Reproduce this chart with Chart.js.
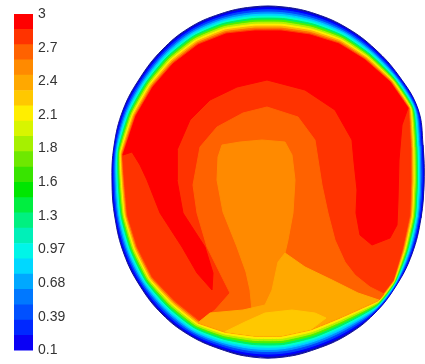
<!DOCTYPE html>
<html>
<head>
<meta charset="utf-8">
<script src="https://cdn.jsdelivr.net/npm/chart.js@4.4.1/dist/chart.umd.min.js"></script>
<style>
html, body { margin: 0; padding: 0; background: #fff; width: 425px; height: 364px; overflow: hidden; }
#legend { position: absolute; left: 0; top: 0; }
#field { position: absolute; left: 111px; top: 0; }
</style>
</head>
<body>
<canvas id="legend" width="80" height="364"></canvas>
<canvas id="field" width="314" height="364"></canvas>
<script>
// colour bar: band edges (bottom to top) and the labelled levels
const bandEdges = [0.1, 0.232, 0.364, 0.495, 0.627, 0.759, 0.891, 1.023, 1.155, 1.286, 1.418, 1.55,
    1.682, 1.814, 1.945, 2.077, 2.209, 2.341, 2.473, 2.605, 2.736, 2.868, 3.0];
const tickValues = [0.1, 0.39, 0.68, 0.97, 1.26, 1.55, 1.84, 2.13, 2.42, 2.71, 3];
const tickLabels = ['0.1', '0.39', '0.68', '0.97', '1.3', '1.6', '1.8', '2.1', '2.4', '2.7', '3'];

// contour outlines, plot units, origin at the centre of the section
const rimOuter = [[156, 0], [155, 37], [150, 73], [131, 106], [107, 133], [79, 154], [48, 168], [16, 175],
    [-16, 175], [-48, 168], [-79, 154], [-106, 132], [-128, 104], [-145, 72], [-154, 36], [-156, 0],
    [-153, -36], [-144, -72], [-128, -104], [-106, -132], [-79, -153], [-48, -167], [-16, -175],
    [16, -175], [48, -167], [79, -153], [106, -132], [128, -104], [144, -72], [153, -36]];
const rimInner = [[142, 0], [142, 34], [140, 74], [122, 100], [97, 122], [71, 138], [42, 147], [13, 151],
    [-13, 151], [-42, 148], [-70, 137], [-95, 118], [-115, 95], [-132, 66], [-145, 27], [-143, 0],
    [-140, -33], [-130, -65], [-115, -95], [-93, -118], [-68, -138], [-42, -146], [-13, -149],
    [13, -149], [42, -143], [70, -132], [112, -115], [125, -98], [134, -67], [141, -34]];
// red (level 3) horseshoe, inner edge from right rim vertex round to the left one
const redEdge = [[134, 57], [131, 22], [130, -18], [129, -43], [122, -56], [104, -63], [92, -53], [88, -31],
    [89, -8], [86, 20], [84, 42], [67, 72], [37, 92], [-1, 102], [-31, 95], [-58, 82], [-78, 62], [-91, 32],
    [-91, 2], [-85, -31], [-63, -65], [-55, -91], [-56, -108], [-71, -91], [-86, -65], [-108, -31],
    [-121, 2], [-128, 17], [-136, 30]];
const orangeRedEdge = [[116, -112], [102, -105], [87, -93], [77, -80], [67, -58], [60, -31], [54, -3],
    [47, 42], [30, 65], [-1, 75], [-25, 69], [-51, 55], [-68, 35], [-75, -3], [-71, -31], [-61, -65],
    [-48, -91], [-38, -111], [-53, -128]];
const orangeEdge = [[-46, 37], [-28, 40], [-6, 42], [17, 40], [24, 27], [27, 2], [25, -31], [20, -58],
    [17, -71], [10, -80], [4, -108], [-3, -126], [-16, -128], [-18, -108], [-22, -90], [-31, -65],
    [-45, -30], [-51, 2], [-50, 25]];
const lightOrangeEdge = [[-58, -131], [-25, -128], [-3, -123], [4, -108], [10, -80], [17, -71], [37, -85],
    [64, -98], [90, -111]];
const yellowEdge = [[-23, -140], [-3, -131], [24, -128], [47, -131], [58, -136]];

// gradient across the wall ring, 0 = outer edge, 1 = inner edge
const rimStops = [0, 0.07, 0.15, 0.24, 0.32, 0.40, 0.48, 0.56, 0.64, 0.72, 0.80, 0.88, 0.95];
const rimColors = ['#12129c', '#0000ff', '#0044ff', '#0090ff', '#00d4ff', '#00ffd0', '#00f060',
    '#50f000', '#b8f000', '#ffee00', '#ffb000', '#ff7000', '#ff3c00'];
const bandColors = ['#0a00f5', '#0028ff', '#0050ff', '#0078ff', '#00a8ff', '#00d8ff', '#00f5e8', '#00f0b8',
    '#00f080', '#00ee40', '#00e600', '#38e400', '#6ee800', '#a6f000', '#d8f500', '#ffee00', '#ffc800',
    '#ffa800', '#ff8a00', '#ff6200', '#ff3300', '#ff0000'];

const font = { family: "'Liberation Sans', Arial, sans-serif", size: 14 };

new Chart(document.getElementById('legend'), {
    type: 'bar',
    data: {
        labels: [''],
        datasets: bandColors.map((c, i) => ({
            data: [[bandEdges[i], bandEdges[i + 1]]],
            backgroundColor: c,
            borderWidth: 0,
            grouped: false,
            barPercentage: 1,
            categoryPercentage: 1
        }))
    },
    options: {
        responsive: false,
        animation: false,
        events: [],
        layout: { padding: { left: 14, top: 14, bottom: 12, right: 0 } },
        plugins: { legend: { display: false }, tooltip: { enabled: false } },
        scales: {
            x: { display: false },
            y: {
                position: 'right',
                min: 0.1,
                max: 3,
                grid: { display: false, drawTicks: false },
                border: { display: false },
                afterBuildTicks: (axis) => { axis.ticks = tickValues.map(v => ({ value: v })); },
                afterFit: (axis) => { axis.width = 47; },
                ticks: {
                    padding: 5,
                    autoSkip: false,
                    color: '#333',
                    font: font,
                    callback: (value, index) => tickLabels[index]
                }
            }
        }
    }
});

// point on the wall ring between outer (f = 0) and inner (f = 1) edge
function rimAt(f) {
    return rimOuter.map((p, i) => [p[0] + f * (rimInner[i][0] - p[0]), p[1] + f * (rimInner[i][1] - p[1])]);
}
function closed(pts, smooth) {
    // smooth loops get one point of overlap on each side so the join has no kink
    const loop = smooth ? [pts[pts.length - 1]].concat(pts, [pts[0], pts[1]]) : pts.concat([pts[0]]);
    return loop.map(p => ({ x: p[0], y: p[1] }));
}

// filled layers, bottom to top
const layers = [];
rimStops.forEach((f, k) => {
    layers.push({ pts: rimAt(f), color: rimColors[k], tension: 0.4 * (1 - f) });
});
layers.push({ pts: rimInner, color: '#ff3300', tension: 0 });
const topArc = [];
for (let i = 14; i >= 2; i--) topArc.push(rimInner[i]);
layers.push({ pts: topArc.concat(redEdge), color: '#ff0000', tension: 0 });
const lowRim = rimAt(0.82);
const bottomArc = lowRim.slice(20, 27);
layers.push({ pts: orangeRedEdge.concat(bottomArc), color: '#ff6200', tension: 0 });
layers.push({ pts: orangeEdge, color: '#ff8a00', tension: 0 });
layers.push({ pts: [lowRim[20]].concat(lightOrangeEdge, bottomArc.slice(1).reverse()), color: '#ffa800', tension: 0 });
layers.push({ pts: [lowRim[21]].concat(yellowEdge, [lowRim[24], lowRim[23], lowRim[22]]), color: '#ffc800', tension: 0 });

new Chart(document.getElementById('field'), {
    type: 'line',
    data: {
        datasets: layers.map((l, k) => ({
            data: closed(l.pts, l.tension > 0),
            fill: 'shape',
            backgroundColor: l.color,
            borderColor: l.color,
            borderWidth: 1,
            pointRadius: 0,
            tension: l.tension,
            order: -k
        }))
    },
    options: {
        responsive: false,
        animation: false,
        events: [],
        layout: { padding: 0 },
        plugins: { legend: { display: false }, tooltip: { enabled: false } },
        scales: {
            x: { type: 'linear', min: -157, max: 157, display: false },
            y: { type: 'linear', min: -182, max: 182, display: false }
        }
    }
});
</script>
</body>
</html>
